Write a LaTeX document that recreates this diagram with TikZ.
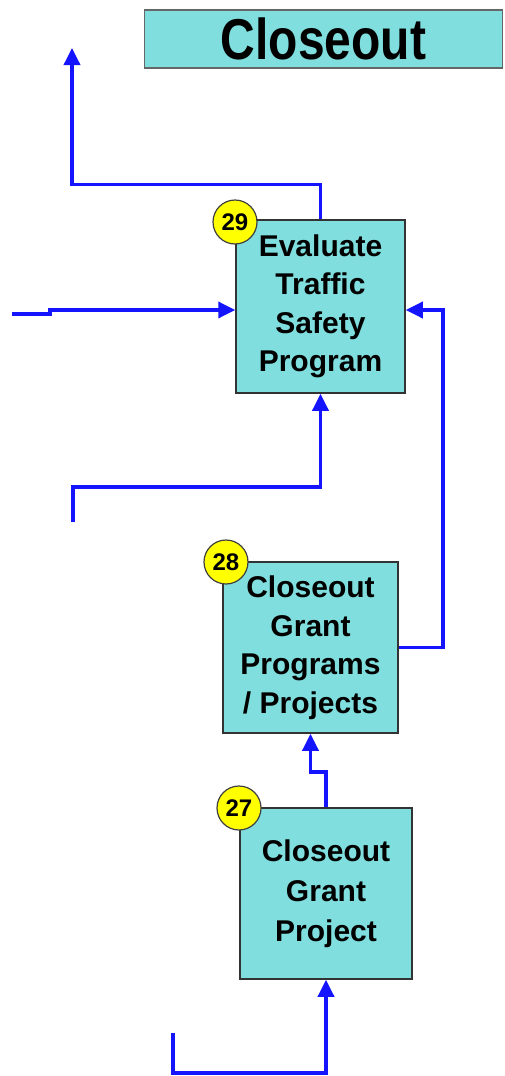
\documentclass[tikz,border=0pt]{standalone}
\usepackage{fontspec}
\setmainfont{Liberation Sans}
\usepackage{graphicx}
\usetikzlibrary{arrows.meta,calc}
\definecolor{boxfill}{RGB}{128,222,222}
\definecolor{flowblue}{RGB}{20,20,255}
\definecolor{badgeyellow}{RGB}{255,255,0}
\tikzset{
  procbox/.style={draw=black!80, line width=1.5pt, fill=boxfill, rectangle, inner sep=0pt, align=center,
    font=\fontsize{30}{38.5}\selectfont\bfseries},
  badge/.style={circle, draw=black!75, line width=1.2pt, fill=badgeyellow, inner sep=0pt, minimum size=44pt,
    font=\fontsize{24}{24}\selectfont\bfseries},
  flow/.style={draw=flowblue, line width=3.5pt, line join=miter},
  flowarrow/.style={flow, -{Triangle[length=17pt,width=16pt]}},
}
\begin{document}
\begin{tikzpicture}[x=1pt,y=-1pt]
\useasboundingbox (0,0) rectangle (504,1076);
% title
\node[draw=black!60, line width=1.5pt, fill=boxfill, minimum width=358pt, minimum height=58pt, inner sep=0pt,
  font=\fontsize{48}{48}\selectfont\bfseries] (title) at (323.5,39) {\raisebox{-2pt}{\scalebox{1}[1.2]{Closeout}}};
% boxes
\node[procbox, minimum width=169pt, minimum height=173pt] (b29) at (320.5,306.5) {Evaluate\\Traffic\\Safety\\Program};
\node[procbox, minimum width=175pt, minimum height=171pt] (b28) at (310.5,647.5) {Closeout\\Grant\\Programs\\/ Projects};
\node[procbox, minimum width=172pt, minimum height=171pt, font=\fontsize{30}{40}\selectfont\bfseries] (b27) at (326,893.5) {Closeout\\Grant\\Project};
% badges
\node[badge] (n29) at (235,222) {29};
\node[badge] (n28) at (226,562) {28};
\node[badge] (n27) at (239,808) {27};
% free ends
\coordinate (out1) at (72,48);
\coordinate (in1) at (12,314);
\coordinate (in2) at (73,522);
\coordinate (in3) at (173,1033);
% connectors
\draw[flowarrow] (b29.north) -- ++(0,-35) -| (out1);
\draw[flowarrow] (in1) -- (50,314) -- (50,310) -- ($(b29.west)+(0,3.5)$);
\draw[flowarrow] (b28.east) -- (443,647.5) -- (443,310) -- ($(b29.east)+(0,3.5)$);
\draw[flowarrow] (in2) -- (73,487) -- (320.5,487) -- (b29.south);
\draw[flowarrow] (b27.north) -- (326,772) -- (310.5,772) -- (b28.south);
\draw[flowarrow] (in3) -- (173,1073) -- (326,1073) -- (b27.south);
\end{tikzpicture}
\end{document}
